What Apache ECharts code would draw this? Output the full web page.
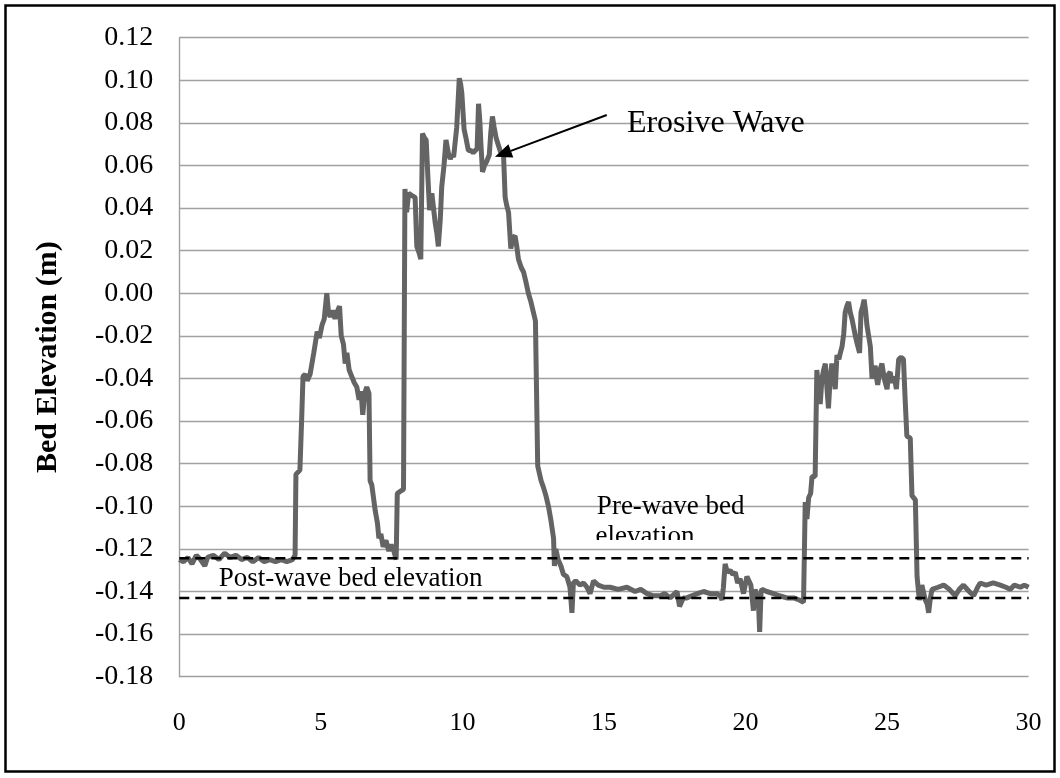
<!DOCTYPE html>
<html><head><meta charset="utf-8">
<script src="https://cdn.jsdelivr.net/npm/echarts@6/dist/echarts.min.js"></script>
<style>html,body{margin:0;padding:0;background:#fff}#c{width:1060px;height:778px}</style>
</head><body><div id="c"></div>
<script>
// ---- data ----
const timeS = [0.00,0.15,0.30,0.45,0.60,0.75,0.90,1.00,1.20,1.40,1.60,1.80,2.00,2.20,2.40,2.60,2.80,3.00,3.20,3.40,3.60,3.80,4.00,4.09,4.12,4.26,4.32,4.37,4.45,4.52,4.62,4.75,4.87,4.95,5.04,5.12,5.21,5.27,5.33,5.42,5.50,5.57,5.66,5.72,5.80,5.86,5.92,6.00,6.09,6.18,6.27,6.35,6.42,6.48,6.55,6.62,6.70,6.74,6.80,6.92,7.00,7.05,7.12,7.20,7.30,7.40,7.48,7.58,7.66,7.70,7.80,7.92,7.97,8.03,8.10,8.20,8.33,8.39,8.47,8.53,8.59,8.66,8.72,8.78,8.84,8.92,8.98,9.04,9.10,9.15,9.22,9.27,9.35,9.42,9.50,9.57,9.63,9.69,9.80,9.89,9.94,9.98,10.06,10.14,10.21,10.30,10.38,10.45,10.52,10.57,10.62,10.65,10.71,10.78,10.86,10.95,11.00,11.06,11.12,11.19,11.26,11.33,11.40,11.45,11.51,11.57,11.63,11.71,11.78,11.86,11.92,11.98,12.08,12.16,12.25,12.33,12.42,12.51,12.58,12.63,12.66,12.78,12.86,12.95,13.04,13.12,13.22,13.25,13.30,13.38,13.48,13.57,13.69,13.80,13.87,13.92,14.00,14.15,14.28,14.40,14.51,14.63,14.80,15.00,15.22,15.50,15.81,16.10,16.30,16.52,16.75,16.99,17.15,17.34,17.50,17.58,17.67,17.80,17.93,18.10,18.30,18.52,18.75,18.99,19.10,19.17,19.22,19.28,19.36,19.46,19.55,19.64,19.72,19.81,19.93,20.05,20.12,20.19,20.28,20.34,20.40,20.46,20.50,20.55,20.58,20.75,20.99,21.20,21.46,21.70,21.90,22.05,22.11,22.17,22.23,22.30,22.35,22.46,22.52,22.58,22.64,22.70,22.76,22.82,22.88,22.93,22.99,23.05,23.11,23.17,23.23,23.30,23.35,23.41,23.47,23.52,23.58,23.64,23.70,23.76,23.82,23.88,23.95,24.03,24.08,24.14,24.19,24.24,24.29,24.35,24.41,24.47,24.52,24.58,24.62,24.67,24.75,24.82,24.90,25.00,25.05,25.11,25.18,25.25,25.33,25.41,25.50,25.58,25.64,25.70,25.82,25.88,26.00,26.06,26.14,26.23,26.35,26.42,26.47,26.53,26.59,26.80,27.00,27.20,27.41,27.55,27.70,27.90,28.06,28.20,28.29,28.50,28.75,29.00,29.20,29.35,29.50,29.71,29.85,30.00];
const elevM = [-0.125,-0.126,-0.124,-0.127,-0.123,-0.125,-0.128,-0.124,-0.123,-0.125,-0.122,-0.124,-0.123,-0.125,-0.124,-0.126,-0.124,-0.126,-0.125,-0.126,-0.125,-0.126,-0.125,-0.123,-0.085,-0.083,-0.060,-0.039,-0.038,-0.041,-0.038,-0.028,-0.018,-0.021,-0.015,-0.012,0.000,-0.009,-0.011,-0.008,-0.012,-0.009,-0.006,-0.020,-0.024,-0.033,-0.028,-0.036,-0.039,-0.042,-0.044,-0.050,-0.046,-0.057,-0.047,-0.044,-0.047,-0.088,-0.090,-0.102,-0.108,-0.115,-0.113,-0.119,-0.116,-0.121,-0.118,-0.121,-0.125,-0.094,-0.093,-0.092,0.049,0.038,0.047,0.046,0.045,0.022,0.019,0.016,0.075,0.073,0.072,0.055,0.039,0.047,0.040,0.033,0.028,0.022,0.035,0.050,0.060,0.072,0.066,0.063,0.065,0.064,0.078,0.101,0.098,0.094,0.077,0.072,0.067,0.067,0.066,0.066,0.068,0.089,0.080,0.071,0.057,0.060,0.062,0.065,0.075,0.083,0.078,0.073,0.070,0.067,0.065,0.066,0.045,0.041,0.038,0.021,0.026,0.027,0.022,0.016,0.012,0.010,0.005,0.000,-0.004,-0.009,-0.013,-0.013,-0.081,-0.088,-0.091,-0.095,-0.100,-0.106,-0.115,-0.128,-0.120,-0.125,-0.128,-0.132,-0.133,-0.138,-0.150,-0.136,-0.135,-0.137,-0.136,-0.138,-0.141,-0.135,-0.137,-0.138,-0.138,-0.139,-0.138,-0.140,-0.139,-0.141,-0.142,-0.142,-0.141,-0.143,-0.141,-0.140,-0.147,-0.143,-0.143,-0.142,-0.141,-0.140,-0.141,-0.141,-0.142,-0.144,-0.138,-0.127,-0.131,-0.130,-0.132,-0.131,-0.136,-0.134,-0.141,-0.133,-0.135,-0.137,-0.149,-0.139,-0.139,-0.146,-0.159,-0.140,-0.139,-0.140,-0.141,-0.142,-0.143,-0.143,-0.144,-0.145,-0.098,-0.106,-0.096,-0.094,-0.086,-0.086,-0.036,-0.045,-0.052,-0.040,-0.036,-0.033,-0.045,-0.054,-0.040,-0.033,-0.038,-0.045,-0.029,-0.031,-0.028,-0.025,-0.019,-0.009,-0.006,-0.004,-0.009,-0.012,-0.016,-0.020,-0.024,-0.028,-0.009,-0.006,-0.003,-0.008,-0.015,-0.020,-0.025,-0.040,-0.037,-0.034,-0.039,-0.043,-0.036,-0.033,-0.040,-0.045,-0.038,-0.037,-0.042,-0.039,-0.045,-0.031,-0.030,-0.031,-0.050,-0.067,-0.068,-0.095,-0.097,-0.133,-0.144,-0.137,-0.144,-0.146,-0.150,-0.143,-0.139,-0.138,-0.137,-0.139,-0.142,-0.139,-0.137,-0.140,-0.142,-0.138,-0.136,-0.137,-0.136,-0.137,-0.138,-0.139,-0.137,-0.138,-0.137,-0.138];
const preWaveLevel = -0.1244;   // pre-wave bed elevation (m)
const postWaveLevel = -0.1430;  // post-wave bed elevation (m)
const xRange = [0, 30];
const xStep = 5;
const yRange = [-0.18, 0.12];
const yStep = 0.02;
const yTitle = 'Bed Elevation (m)';
const noteErosive = 'Erosive Wave';
const notePost = 'Post-wave bed elevation';
const notePre1 = 'Pre-wave bed';
const notePre2 = 'elevation';
// annotation anchors in data units
const arrowTip = [11.15, 0.0641];
const arrowTail = [15.1, 0.0837];
const erosiveAt = [15.81, 0.0797];
const postAt = [1.39, -0.1343];
const pre1At = [14.75, -0.1002];
const pre2At = [14.70, -0.1142];

const SERIF = '"Liberation Serif", "Times New Roman", serif';
const chart = echarts.init(document.getElementById('c'), null, {renderer: 'canvas'});
const lineData = timeS.map((t, i) => [t, elevM[i]]);

const labelStyle = (size, weight) => ({color: '#000', fontFamily: SERIF, fontSize: size, fontWeight: weight || 'normal'});

chart.setOption({
  backgroundColor: '#fff',
  animation: false,
  textStyle: {fontFamily: SERIF},
  grid: {left: 179.3, right: 31.4, top: 37.7, bottom: 101.3, containLabel: false, outerBoundsMode: 'none'},
  xAxis: {
    type: 'value', min: xRange[0], max: xRange[1], interval: xStep,
    axisLine: {show: false}, axisTick: {show: false}, splitLine: {show: false},
    axisLabel: Object.assign({margin: 33}, labelStyle(26))
  },
  yAxis: {
    type: 'value', min: yRange[0], max: yRange[1], interval: yStep,
    name: yTitle, nameLocation: 'middle', nameRotate: 90, nameGap: 116,
    nameTextStyle: labelStyle(30, 'bold'),
    axisLine: {show: true, lineStyle: {color: '#a0a0a0', width: 1.4}},
    axisTick: {show: false},
    splitLine: {show: true, lineStyle: {color: '#a0a0a0', width: 1.4}},
    axisLabel: Object.assign({margin: 26,
      formatter: v => (Math.abs(v) < 1e-9 ? 0 : v).toFixed(2)}, labelStyle(28))
  },
  series: [
    {type: 'line', data: lineData, showSymbol: false, symbol: 'none',
     lineStyle: {color: '#646464', width: 5}, z: 2},
    {type: 'line', data: [[xRange[0], preWaveLevel], [xRange[1], preWaveLevel]], symbol: 'none',
     lineStyle: {color: '#000', width: 2.5, type: [10, 6]}, z: 3},
    {type: 'line', data: [[xRange[0], postWaveLevel], [xRange[1], postWaveLevel]], symbol: 'none',
     lineStyle: {color: '#000', width: 2.5, type: [10, 6]}, z: 3}
  ]
});

const px = p => chart.convertToPixel({gridIndex: 0}, p);
const tip = px(arrowTip), tail = px(arrowTail);
const dx = tip[0] - tail[0], dy = tip[1] - tail[1];
const len = Math.hypot(dx, dy), ux = dx / len, uy = dy / len;
const headL = 17, headW = 7;
const bx = tip[0] - ux * headL, by = tip[1] - uy * headL;
const e = px(erosiveAt), po = px(postAt), p1 = px(pre1At), p2 = px(pre2At);

chart.setOption({
  graphic: [
    {type: 'rect', shape: {x: 5.5, y: 5.5, width: 1049, height: 766}, style: {fill: 'none', stroke: '#000', lineWidth: 2.5}, z: 100},
    {type: 'line', shape: {x1: tail[0], y1: tail[1], x2: bx, y2: by}, style: {stroke: '#000', lineWidth: 2}, z: 50},
    {type: 'polygon', shape: {points: [tip, [bx + uy * headW, by - ux * headW], [bx - uy * headW, by + ux * headW]]}, style: {fill: '#000'}, z: 50},
    {type: 'text', x: e[0], y: e[1], style: {text: noteErosive, fontFamily: SERIF, fontSize: 32, fill: '#000', textAlign: 'left', textVerticalAlign: 'middle'}, z: 50},
    {type: 'text', x: po[0], y: po[1], style: {text: notePost, fontFamily: SERIF, fontSize: 27, fill: '#000', textAlign: 'left', textVerticalAlign: 'middle'}, z: 50},
    {type: 'text', x: p1[0], y: p1[1], style: {text: notePre1, fontFamily: SERIF, fontSize: 27, fill: '#000', textAlign: 'left', textVerticalAlign: 'middle'}, z: 50},
    {type: 'text', x: p2[0], y: p2[1], style: {text: notePre2, fontFamily: SERIF, fontSize: 27, fill: '#000', textAlign: 'left', textVerticalAlign: 'middle'}, z: 50},
    {type: 'rect', shape: {x: p2[0] - 4, y: 540, width: 120, height: 6}, style: {fill: '#fff'}, z: 60}
  ]
});
</script></body></html>
